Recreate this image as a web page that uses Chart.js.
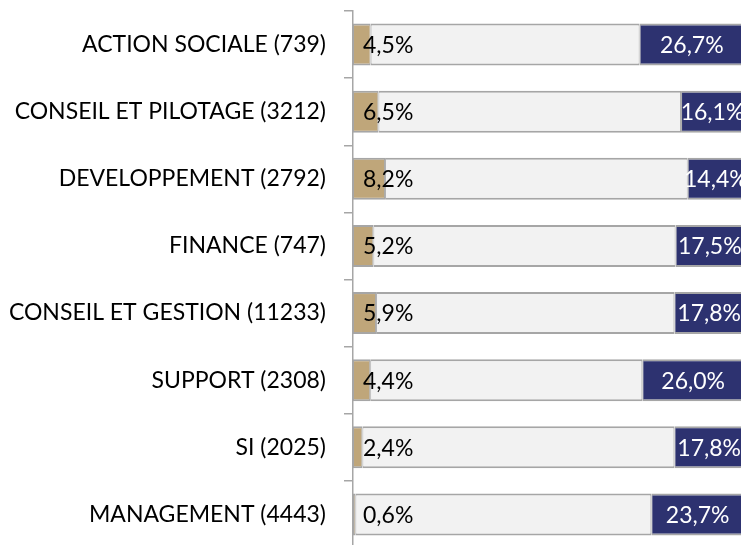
<!DOCTYPE html>
<html>
<head>
<meta charset="utf-8">
<script src="https://cdn.jsdelivr.net/npm/chart.js@4"></script>
<style>
html,body{margin:0;padding:0;background:#fff;overflow:hidden;width:741px;height:545px;}
#wrap{position:absolute;left:0;top:0;width:744px;height:548px;}
</style>
</head>
<body>
<div id="wrap"><canvas id="c" width="744" height="548"></canvas></div>
<script>
const categories = ['ACTION SOCIALE (739)','CONSEIL ET PILOTAGE (3212)','DEVELOPPEMENT (2792)','FINANCE (747)','CONSEIL ET GESTION (11233)','SUPPORT (2308)','SI (2025)','MANAGEMENT (4443)'];
const tanValues  = [4.5, 6.5, 8.2, 5.2, 5.9, 4.4, 2.4, 0.6];
const greyValues = [68.8, 77.4, 77.4, 77.3, 76.3, 69.6, 79.8, 75.7];
const navyValues = [26.7, 16.1, 14.4, 17.5, 17.8, 26.0, 17.8, 23.7];
const xTicks = [0, 100];

const FONT = 'Lato';
const fmt = v => v.toFixed(1).replace('.', ',') + '%';

const labelPlugin = {
  id: 'segLabels',
  afterDatasetsDraw(chart) {
    const ctx = chart.ctx;
    ctx.save();
    ctx.font = '23px ' + FONT;
    ctx.textBaseline = 'middle';
    chart.getDatasetMeta(0).data.forEach((bar, i) => {
      ctx.fillStyle = '#000000';
      ctx.textAlign = 'left';
      ctx.fillText(fmt(tanValues[i]), bar.base + 10, bar.y + 1);
    });
    chart.getDatasetMeta(2).data.forEach((bar, i) => {
      ctx.fillStyle = '#ffffff';
      ctx.textAlign = 'center';
      ctx.fillText(fmt(navyValues[i]), (bar.base + bar.x) / 2, bar.y + 1);
    });
    ctx.restore();
  }
};

const common = {borderColor:'#A6A6A6', borderWidth:{top:2, bottom:2, left:1, right:1}, borderSkipped:false, barPercentage:0.626, categoryPercentage:1};

new Chart(document.getElementById('c'), {
  type: 'bar',
  data: {
    labels: categories,
    datasets: [
      Object.assign({label:'tan', data: tanValues, backgroundColor:'#BFA67A'}, common),
      Object.assign({label:'grey', data: greyValues, backgroundColor:'#F2F2F2'}, common),
      Object.assign({label:'navy', data: navyValues, backgroundColor:'#2D3270'}, common)
    ]
  },
  options: {
    indexAxis: 'y',
    responsive: false,
    animation: false,
    devicePixelRatio: 1,
    layout: {padding: {top: 11, left: 0, right: 0, bottom: 0}},
    plugins: {legend: {display: false}, tooltip: {enabled: false}},
    scales: {
      x: {stacked: true, display: false, min: xTicks[0], max: xTicks[1]},
      y: {
        stacked: true,
        afterFit(scale){ scale.width = 353; scale.paddingTop = 0; scale.paddingBottom = 0; },
        border: {display: true, color: '#A6A6A6', width: 1.5},
        grid: {display: true, drawOnChartArea: false, drawTicks: true, tickLength: 9, color: '#A6A6A6', lineWidth: 1.5, offset: true},
        ticks: {color: '#000000', font: {family: FONT, size: 23}, padding: 18}
      }
    }
  },
  plugins: [labelPlugin]
});
</script>
</body>
</html>
